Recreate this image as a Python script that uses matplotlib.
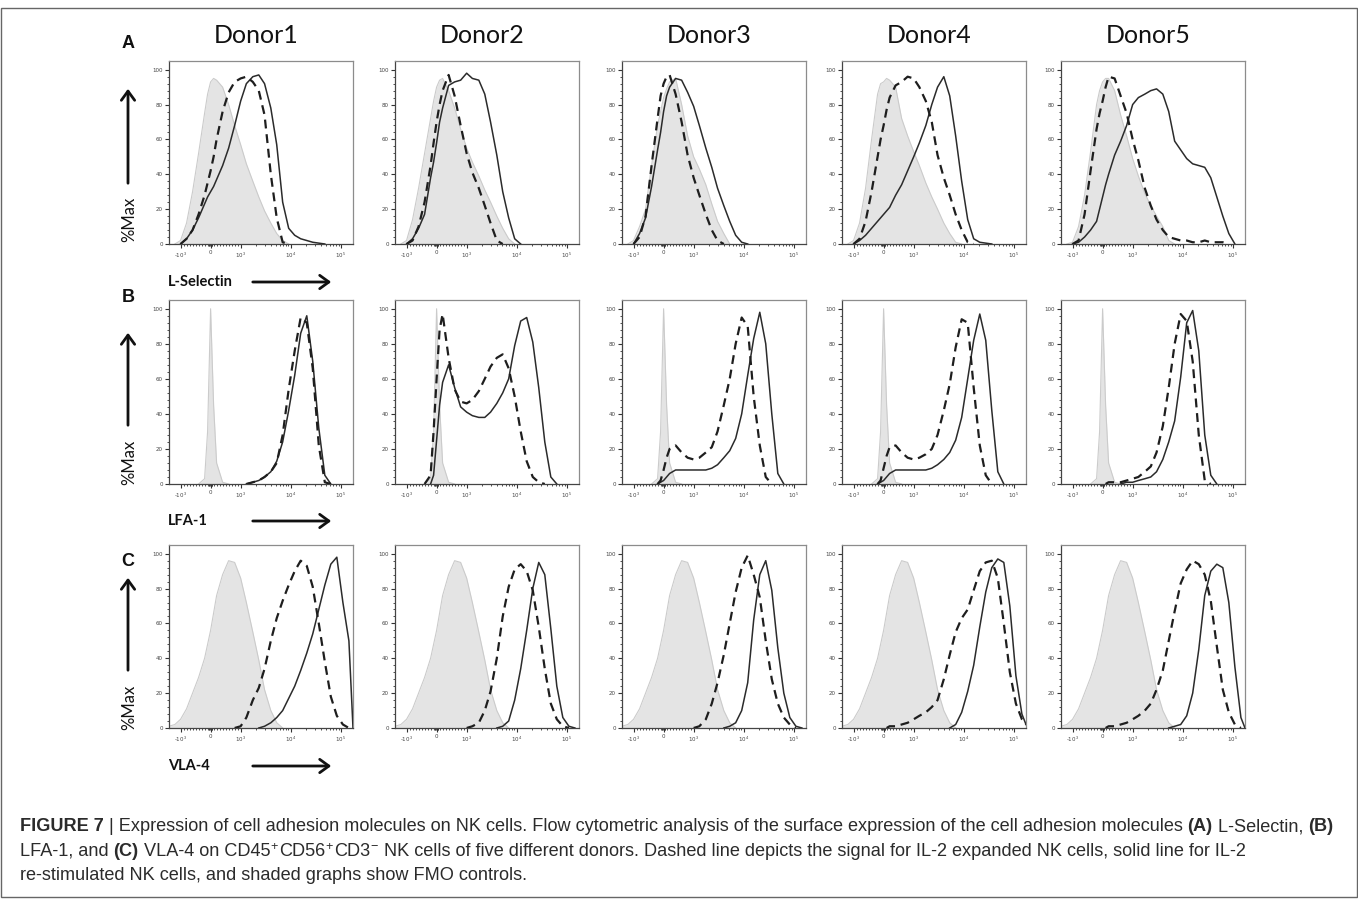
import matplotlib
matplotlib.use('Agg')
import matplotlib.pyplot as plt
from matplotlib import font_manager
from matplotlib.patches import Rectangle, FancyArrowPatch
import numpy as np

W, H = 1358, 899

# channel positions (fluorescence units), shared by every histogram
chan = [-1700, -1300, -1000, -800, -600, -400, -200, -100, 0, 100, 200, 400, 600, 800,
        1000, 1300, 1750, 2300, 3000, 4000, 5250, 6900, 9100, 12000, 15800, 20900,
        27500, 36300, 47900, 63100, 83200, 110000, 145000, 175000]

donors = ['Donor1', 'Donor2', 'Donor3', 'Donor4', 'Donor5']
markers = ['L-Selectin', 'LFA-1', 'VLA-4']
letters = ['A', 'B', 'C']

# --- row A: L-Selectin (%Max per channel) ---
fmoA1 = [0,0,2,12,30,52,75,86,93,95,94,90,80,68,57,46,36,27,19,12,6,2,0,0,0,0,0,0,0,0,0,0,0,0]
expA1 = [0,0,0,3,8,17,28,35,42,50,60,76,87,93,95,96,93,88,74,40,15,1,0,0,0,0,0,0,0,0,0,0,0,0]
resA1 = [0,0,0,3,8,15,23,27,30,33,37,45,55,68,82,92,96,97,92,78,57,24,9,5,3,2,1,0.5,0,0,0,0,0,0]

fmoA2 = [0,0,2,14,32,52,72,82,90,94,95,88,78,66,55,47,39,31,24,16,9,3,0,0,0,0,0,0,0,0,0,0,0,0]
expA2 = [0,0,0,2,10,24,45,58,70,80,88,97,85,68,52,41,32,22,12,2,0,0,0,0,0,0,0,0,0,0,0,0,0,0]
resA2 = [0,0,0,3,9,17,38,47,58,70,78,91,93,94,98,95,94,86,70,51,30,15,3,0,0,0,0,0,0,0,0,0,0,0]

fmoA3 = [0,0,2,10,20,45,68,76,84,89,93,95,80,62,50,43,34,23,13,6,0,0,0,0,0,0,0,0,0,0,0,0,0,0]
expA3 = [0,0,0,4,16,45,72,85,92,96,97,86,70,51,38,28,17,8,2,0,0,0,0,0,0,0,0,0,0,0,0,0,0,0]
resA3 = [0,0,0,6,15,33,54,64,76,85,90,95,94,87,79,68,55,44,32,22,13,5,1,0,0,0,0,0,0,0,0,0,0,0]

fmoA4 = [0,0,2,12,32,60,86,92,93,95,94,90,72,62,53,45,35,27,20,12,6,1,0,0,0,0,0,0,0,0,0,0,0,0]
expA4 = [0,0,0,3,13,30,50,60,68,77,84,91,93,96,95,90,82,70,51,38,28,17,8,1,0,0,0,0,0,0,0,0,0,0]
resA4 = [0,0,0,2,5,9,13,15,17,19,21,28,34,42,50,58,68,80,90,96,85,62,36,14,3,1,0.5,0,0,0,0,0,0,0]

fmoA5 = [0,0,1,10,28,53,80,88,93,95,95,88,74,62,49,39,29,22,16,10,2,0,0,0,0,0,0,0,0,0,0,0,0,0]
expA5 = [0,0,0,2,17,42,66,75,82,90,96,95,85,75,60,48,32,22,14,8,4,3,2,2,1,1,2,1,1,1,0,0,0,0]
resA5 = [0,0,0,1,4,8,13,20,27,34,40,51,59,68,80,84,86,88,89,86,76,59,54,49,46,45,44,38,27,16,6,0,0,0]

# --- row B: LFA-1 ---
fmoB = [0,0,0,0,0,0,3,30,100,45,12,1,0,0,0,0,0,0,0,0,0,0,0,0,0,0,0,0,0,0,0,0,0,0]
expB1 = [0,0,0,0,0,0,0,0,0,0,0,0,0,0,0,0,1,2,4,7,12,28,54,76,95,92,66,22,1,0,0,0,0,0]
resB1 = [0,0,0,0,0,0,0,0,0,0,0,0,0,0,0,0,1,2,4,7,13,24,42,62,86,96,70,32,5,0,0,0,0,0]
expB2 = [0,0,0,0,0,0,5,30,60,88,97,72,54,47,46,48,53,60,67,72,74,66,50,30,13,4,1,0,0,0,0,0,0,0]
resB2 = [0,0,0,0,0,0,0,5,25,45,58,68,55,44,41,39,38,38,41,46,52,60,79,93,95,81,55,24,4,0,0,0,0,0]
expB3 = [0,0,0,0,0,0,0,2,8,15,20,22,18,15,14,15,18,21,30,45,60,80,95,90,50,22,4,0,0,0,0,0,0,0]
resB3 = [0,0,0,0,0,0,0,1,2,4,6,8,8,8,8,8,8,9,11,15,19,26,40,62,83,98,80,40,6,0,0,0,0,0]
expB4 = [0,0,0,0,0,0,0,2,9,16,21,22,18,15,14,15,17,20,28,42,57,78,94,92,55,22,5,0,0,0,0,0,0,0]
resB4 = [0,0,0,0,0,0,0,1,2,4,6,8,8,8,8,8,8,9,11,14,18,25,38,60,82,97,82,42,7,0,0,0,0,0]
expB5 = [0,0,0,0,0,0,0,0,0,0,1,1,1,2,3,4,7,10,18,33,55,80,97,93,70,28,2,0,0,0,0,0,0,0]
resB5 = [0,0,0,0,0,0,0,0,0,0,0,0,0,1,1,2,3,4,7,14,24,36,61,92,99,76,28,5,0,0,0,0,0,0]

# --- row C: VLA-4 ---
fmoC = [1,2,5,11,20,29,40,48,56,66,76,88,96,95,86,72,55,39,22,10,3,0,0,0,0,0,0,0,0,0,0,0,0,0]
expC1 = [0,0,0,0,0,0,0,0,0,0,0,0,0,0,1,6,16,23,34,50,63,73,82,90,96,93,81,60,38,18,7,2,0,0]
resC1 = [0,0,0,0,0,0,0,0,0,0,0,0,0,0,0,0,0,0,1,3,6,10,17,24,33,43,54,68,82,94,98,72,50,0]
expC2 = [0,0,0,0,0,0,0,0,0,0,0,0,0,0,0,1,3,10,21,40,64,81,91,94,90,79,58,34,14,5,1,0,0,0]
resC2 = [0,0,0,0,0,0,0,0,0,0,0,0,0,0,0,0,0,0,0,0,1,4,16,34,56,80,95,88,57,24,6,1,0,0]
expC3 = [0,0,0,0,0,0,0,0,0,0,0,0,0,0,0,1,5,14,26,42,60,78,92,99,88,75,50,28,14,6,2,0,0,0]
resC3 = [0,0,0,0,0,0,0,0,0,0,0,0,0,0,0,0,0,0,0,0,1,3,10,26,62,88,96,79,46,20,6,1,0,0]
expC4 = [0,0,0,0,0,0,0,0,0,0,1,1,2,3,5,7,9,12,16,28,42,55,63,68,79,90,95,96,86,60,32,14,5,2]
resC4 = [0,0,0,0,0,0,0,0,0,0,0,0,0,0,0,0,0,0,0,0,0,2,9,21,36,58,78,92,97,95,70,30,8,2]
expC5 = [0,0,0,0,0,0,0,0,0,0,1,1,2,3,5,7,10,14,22,33,50,67,83,91,96,94,88,73,47,22,9,2,0,0]
resC5 = [0,0,0,0,0,0,0,0,0,0,0,0,0,0,0,0,0,0,0,0,0,1,2,7,20,45,76,90,94,92,72,35,6,0]

fmo = [[fmoA1, fmoA2, fmoA3, fmoA4, fmoA5], [fmoB] * 5, [fmoC] * 5]
expanded = [[expA1, expA2, expA3, expA4, expA5],
            [expB1, expB2, expB3, expB4, expB5],
            [expC1, expC2, expC3, expC4, expC5]]
restim = [[resA1, resA2, resA3, resA4, resA5],
          [resB1, resB2, resB3, resB4, resB5],
          [resC1, resC2, resC3, resC4, resC5]]

# layout in pixels
lefts = [169, 395, 622, 842, 1061]
PW = 184
row_top = [61, 300, 545]
row_bot = [244, 484, 728]

names = {f.name for f in font_manager.fontManager.ttflist}
cap_font = 'Liberation Sans Narrow' if 'Liberation Sans Narrow' in names else 'Liberation Sans'
plt.rcParams['mathtext.fontset'] = 'custom'
plt.rcParams['mathtext.rm'] = cap_font
plt.rcParams['mathtext.it'] = cap_font

fig = plt.figure(figsize=(W / 100, H / 100), dpi=100)
fig.patch.set_facecolor('white')


def fx(x):
    return x / W


def fy(y):
    return 1 - y / H


x_arr = np.array(chan, float)


def trimmed(v):
    v = np.asarray(v, float)
    nz = np.nonzero(v)[0]
    a = max(nz[0] - 1, 0)
    b = min(nz[-1] + 2, len(v))
    return x_arr[a:b], v[a:b]


minor_x = ([-900, -800, -700, -600, -500, -400, -300, -200, -100, -60, -40, -20,
            20, 40, 60, 100, 200, 300, 400, 500, 600, 700, 800, 900] +
           [k * 1000 for k in range(2, 10)] + [k * 10000 for k in range(2, 10)])

for r in range(3):
    for c in range(5):
        ax = fig.add_axes([fx(lefts[c]), fy(row_bot[r]), PW / W,
                           (row_bot[r] - row_top[r]) / H])
        ax.set_xscale('symlog', linthresh=1000, linscale=0.54)
        ax.fill_between(x_arr, fmo[r][c], 0, color='#e4e4e4', lw=0, zorder=1)
        xs, ys = trimmed(fmo[r][c])
        ax.plot(xs, ys, color='#cbcbcb', lw=0.8, zorder=2)
        xs, ys = trimmed(restim[r][c])
        ax.plot(xs, ys, color='#2b2b2b', lw=1.1, zorder=3)
        xs, ys = trimmed(expanded[r][c])
        ax.plot(xs, ys, color='#1e1e1e', lw=1.6, dashes=(4, 2.6), zorder=4)
        ax.set_xlim(-1700, 175000)
        ax.set_ylim(0, 105)
        ax.set_xticks([-1000, 0, 1000, 10000, 100000])
        ax.set_xticklabels(['-10$^3$', '0', '10$^3$', '10$^4$', '10$^5$'])
        ax.set_xticks(minor_x, minor=True)
        ax.set_yticks([0, 20, 40, 60, 80, 100])
        ax.set_yticks(list(range(0, 104, 4)), minor=True)
        ax.tick_params(which='major', length=3, width=0.8, color='#333333',
                       labelsize=4, labelcolor='#444444', pad=1.5)
        ax.tick_params(which='minor', length=1.6, width=0.6, color='#333333')
        for side, sp in ax.spines.items():
            sp.set_linewidth(0.9)
            sp.set_color('#444444' if side in ('left', 'bottom') else '#8c8c8c')

# column titles
for c, name in enumerate(donors):
    fig.text(fx(lefts[c] + PW / 2 - 5), fy(43), name, family='Lato', fontsize=18,
             ha='center', va='baseline', color='#111111')

# row letters, y-label arrows, x-labels
letter_y = [43, 297, 562]
tip_y = [86, 330, 575]
tail_y = [186, 428, 673]
max_y = [219, 462, 707]
xlab_y = [282, 521, 766]
for r in range(3):
    fig.text(fx(128), fy(letter_y[r]), letters[r], family='Liberation Sans',
             fontweight='bold', fontsize=13, ha='center', va='center', color='#111111')
    fig.add_artist(FancyArrowPatch((fx(128), fy(tail_y[r])), (fx(128), fy(tip_y[r])),
                                   transform=fig.transFigure,
                                   arrowstyle='->,head_length=0.55,head_width=0.4',
                                   mutation_scale=12, lw=2, color='#111111'))
    fig.text(fx(129), fy(max_y[r]), '%Max', family='Lato', fontsize=12,
             rotation=90, ha='center', va='center', color='#111111')
    fig.text(fx(168), fy(xlab_y[r]), markers[r], family='Lato', fontweight='bold',
             fontsize=10.5, ha='left', va='center', color='#111111')
    fig.add_artist(FancyArrowPatch((fx(250), fy(xlab_y[r])), (fx(334), fy(xlab_y[r])),
                                   transform=fig.transFigure,
                                   arrowstyle='->,head_length=0.55,head_width=0.4',
                                   mutation_scale=12, lw=2, color='#111111'))

# caption
line1 = [('FIGURE 7', 'bold'),
         (' | Expression of cell adhesion molecules on NK cells. Flow cytometric analysis of the '
          'surface expression of the cell adhesion molecules ', 'normal'),
         ('(A)', 'bold'), (' L-Selectin, ', 'normal'), ('(B)', 'bold')]
line2 = [('LFA-1, and ', 'normal'), ('(C)', 'bold'), (' VLA-4 on CD45', 'normal'),
         ('$^{+}$', 'normal'), ('CD56', 'normal'), ('$^{+}$', 'normal'), ('CD3', 'normal'),
         ('$^{-}$', 'normal'),
         (' NK cells of five different donors. Dashed line depicts the signal for IL-2 '
          'expanded NK cells, solid line for IL-2', 'normal')]
line3 = [('re-stimulated NK cells, and shaded graphs show FMO controls.', 'normal')]

renderer = fig.canvas.get_renderer()


def put_line(segs, x0, y, size, draw=True):
    x = x0
    arts = []
    for s, w in segs:
        t = fig.text(fx(x), fy(y), s, family=cap_font, fontweight=w, fontsize=size,
                     color='#2b2b2b', ha='left', va='baseline')
        x += t.get_window_extent(renderer).width
        arts.append(t)
    if not draw:
        for t in arts:
            t.remove()
    return x - x0


w10 = put_line(line1, 20, 826, 10, draw=False)
cap_size = 10 * 1317 / w10
put_line(line1, 20, 831, cap_size)
put_line(line2, 20, 856, cap_size)
put_line(line3, 20, 880, cap_size)

fig.add_artist(Rectangle((fx(0.5), fy(897)), fx(1356.5), (897 - 8) / H,
                         transform=fig.transFigure, fill=False, edgecolor='#666666', lw=1))

fig.savefig('out.png', dpi=100)
